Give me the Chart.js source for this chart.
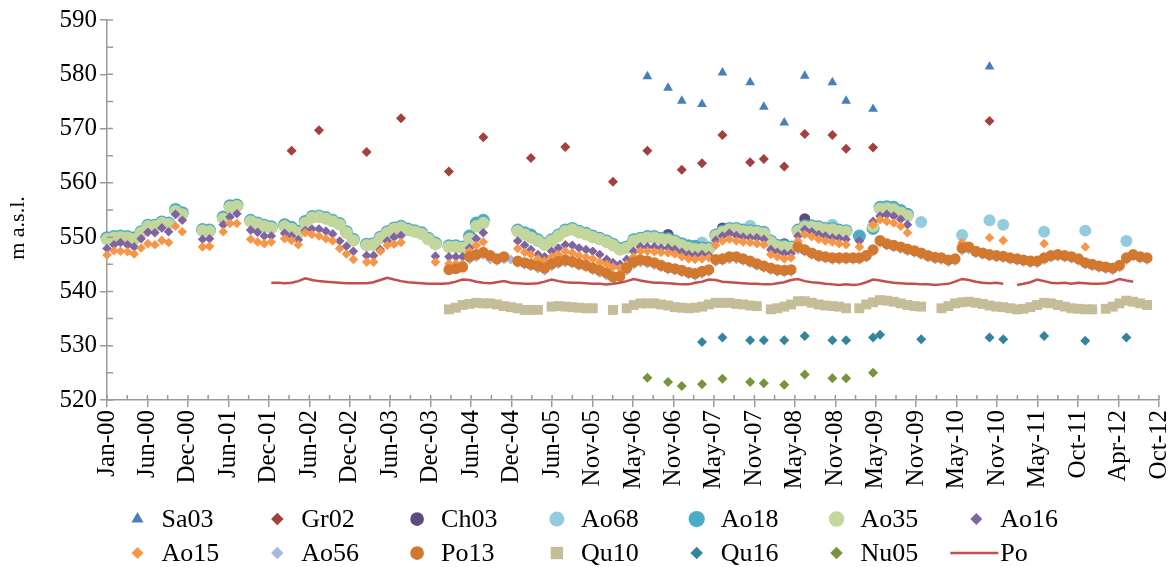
<!DOCTYPE html>
<html>
<head>
<meta charset="utf-8">
<title>Water levels 2000–2012</title>
<script src="https://cdn.jsdelivr.net/npm/chart.js@4.4.1/dist/chart.umd.min.js"></script>
<style>
  html, body { margin: 0; padding: 0; background: #ffffff; }
  #wrap { width: 1176px; height: 567px; }
</style>
</head>
<body>
<div id="wrap"><canvas id="chart" width="1176" height="567"></canvas></div>
<script>
// ---------------------------------------------------------------------------
// Data (m a.s.l.). Monthly series start at the given month; null = no reading.
// ---------------------------------------------------------------------------
const seriesNames = ['Sa03', 'Gr02', 'Ch03', 'Ao68', 'Ao18', 'Ao35', 'Ao16',
                     'Ao15', 'Ao56', 'Po13', 'Qu10', 'Qu16', 'Nu05', 'Po'];

const xTickLabels = ['Jan-00', 'Jun-00', 'Dec-00', 'Jun-01', 'Dec-01', 'Jun-02', 'Dec-02',
  'Jun-03', 'Dec-03', 'Jun-04', 'Dec-04', 'Jun-05', 'Nov-05', 'May-06', 'Nov-06', 'May-07',
  'Nov-07', 'May-08', 'Nov-08', 'May-09', 'Nov-09', 'May-10', 'Nov-10', 'May-11', 'Oct-11',
  'Apr-12', 'Oct-12'];
const yTickValues = [520, 530, 540, 550, 560, 570, 580, 590];

// Spot campaigns
const sa03Dates = ['2006-08', '2006-11', '2007-01', '2007-04', '2007-07', '2007-11', '2008-01',
  '2008-04', '2008-07', '2008-11', '2009-01', '2009-05', '2010-10'];
const sa03 = [579.6, 577.5, 575.1, 574.5, 580.3, 578.5, 574.0, 571.1, 579.7, 578.5, 575.1, 573.6, 581.4];

const gr02Dates = ['2002-04', '2002-08', '2003-03', '2003-08', '2004-03', '2004-08', '2005-03',
  '2005-08', '2006-03', '2006-08', '2007-01', '2007-04', '2007-07', '2007-11', '2008-01',
  '2008-04', '2008-07', '2008-11', '2009-01', '2009-05', '2010-10'];
const gr02 = [565.9, 569.7, 565.7, 571.9, 562.1, 568.4, 564.6, 566.6, 560.2, 565.9, 562.4,
  563.6, 568.8, 563.8, 564.4, 563.0, 569.0, 568.8, 566.3, 566.5, 571.4];

const ch03Dates = ['2006-08', '2006-11', '2007-07', '2008-04', '2008-07'];
const ch03 = [550.2, 550.5, 551.7, 548.8, 553.4];

const ao68Dates = ['2007-04', '2007-11', '2008-11', '2009-12', '2010-06', '2010-10', '2010-12',
  '2011-06', '2011-12', '2012-06'];
const ao68 = [549.0, 552.1, 552.3, 552.8, 550.4, 553.1, 552.3, 551.0, 551.2, 549.3];

const qu16Dates = ['2007-04', '2007-07', '2007-11', '2008-01', '2008-04', '2008-07', '2008-11',
  '2009-01', '2009-05', '2009-06', '2009-12', '2010-10', '2010-12', '2011-06', '2011-12', '2012-06'];
const qu16 = [530.7, 531.5, 531.0, 531.0, 531.0, 531.8, 531.0, 531.0, 531.5, 532.0, 531.2,
  531.5, 531.2, 531.8, 530.9, 531.5];

const nu05Dates = ['2006-08', '2006-11', '2007-01', '2007-04', '2007-07', '2007-11', '2008-01',
  '2008-04', '2008-07', '2008-11', '2009-01', '2009-05'];
const nu05 = [524.1, 523.3, 522.6, 522.9, 523.9, 523.3, 523.1, 522.8, 524.7, 524.0, 524.0, 525.0];

// Monthly records from January 2000
const ao18Start = '2000-01';
const ao18 = [
  549.9, 550.1, 550.2, 550.1, 549.9, 551.0, 552.2, 552.2, 552.8, 552.6, 555.1, 554.5,
  null, null, 551.4, 551.3, null, 553.7, 555.8, 555.9, null, 553.1, 552.6, 552.2,
  551.9, null, 552.3, 551.8, 551.1, 552.9, 553.8, 553.9, 553.6, 553.1, 552.5, 551.0,
  549.6, null, 548.7, 548.8, 550.0, 551.0, 551.7, 552.0, 551.5, 551.2, 550.8, 549.8,
  548.9, null, 548.4, 548.4, 548.2, 550.2, 552.6, 553.1, null, null, null, null,
  551.3, 550.8, 550.4, 549.5, 548.8, 549.5, 550.4, 551.3, 551.6, 551.1, 550.7, 550.2,
  549.8, 549.3, 548.7, 547.9, 548.2, 549.5, 549.8, 550.1, 550.1, 549.8, 549.7, 549.3,
  548.8, 548.4, 548.3, 548.0, 548.0, 550.4, 551.1, 551.6, 551.6, 551.3, 551.2, 551.1,
  550.9, 549.3, 548.5, 548.4, 548.2, 551.3, 552.1, 552.1, 551.9, 551.6, 551.6, 551.3,
  551.2, null, 550.2, null, 551.6, 555.5, 555.6, 555.5, 554.9, 554.2];

const ao35Start = '2000-01';
const ao35 = [
  549.6, 549.9, 550.0, 549.9, 549.6, 550.8, 552.0, 552.0, 552.6, 552.4, 554.8, 554.2,
  null, null, 551.2, 551.1, null, 553.4, 555.5, 555.7, null, 552.9, 552.4, 552.0,
  551.7, null, 552.0, 551.5, 550.8, 552.6, 553.6, 553.7, 553.4, 552.9, 552.3, 550.8,
  549.4, null, 548.5, 548.6, 549.8, 550.8, 551.5, 551.8, 551.3, 551.0, 550.6, 549.6,
  548.7, null, 548.2, 548.2, 548.0, 549.7, 552.0, 552.6, null, null, null, null,
  551.1, 550.5, 549.9, 549.3, 548.6, 549.3, 550.2, 551.1, 551.4, 550.9, 550.5, 550.0,
  549.6, 549.1, 548.5, 547.7, 548.0, 549.3, 549.6, 549.9, 549.9, 549.6, 549.5, 549.1,
  548.5, 548.0, 547.8, 547.8, 547.8, 550.2, 550.9, 551.4, 551.4, 551.1, 551.0, 550.9,
  550.7, 549.1, 548.3, 548.2, 548.0, 551.1, 551.9, 551.9, 551.7, 551.4, 551.4, 551.1,
  551.0, null, null, null, 552.0, 555.2, 555.3, 555.1, 554.5, 553.9];

const ao16Start = '2000-01';
const ao16 = [
  547.9, 548.6, 549.0, 548.6, 548.2, 549.7, 550.9, 550.8, 551.7, 551.0, 554.2, 553.1,
  null, null, 549.6, 549.7, null, 552.3, 553.7, 554.3, null, 551.3, 550.9, 550.2,
  550.2, null, 550.7, 550.2, 549.5, 551.2, 551.5, 551.5, 551.1, 550.6, 549.3, 548.3,
  547.4, null, 546.6, 546.6, 547.7, 549.3, 550.0, 550.3, null, null, null, null,
  546.5, null, 546.4, 546.4, 546.4, 548.0, 549.7, 550.8, null, null, null, null,
  549.3, 548.5, 547.7, 546.8, 546.4, 547.4, 548.0, 548.6, 548.5, 548.0, 547.7, 547.4,
  546.8, 545.9, 545.3, 545.0, 545.9, 547.4, 548.2, 548.2, 548.2, 548.0, 548.0, 547.7,
  547.2, 546.8, 546.6, 546.8, 546.6, 549.4, 550.2, 550.7, 550.3, 550.0, 549.9, 549.9,
  549.6, 547.7, 547.2, 547.0, 547.0, 550.2, 551.4, 551.0, 550.5, 550.2, 549.9, 549.8,
  549.6, null, 549.3, null, 552.9, 553.9, 554.2, 553.9, 553.3, 552.3];

const ao15Start = '2000-01';
const ao15 = [
  546.7, 547.5, 547.4, 547.3, 546.9, 548.0, 548.8, 548.6, 549.4, 549.0, 552.0, 551.0,
  null, null, 548.2, 548.3, null, 551.0, 552.5, 552.5, null, 549.6, 549.1, 548.8,
  549.1, null, 549.7, 549.4, 548.6, 550.8, 550.5, 550.2, 549.7, 549.3, 547.9, 546.9,
  545.9, null, 545.4, 545.4, 547.4, 548.5, 548.7, 549.0, null, null, null, null,
  545.4, null, 545.1, 545.1, 545.1, 547.4, 548.5, 549.1, null, null, null, null,
  547.9, 547.2, 546.8, 546.0, 545.6, 546.4, 546.8, 547.4, 547.1, 546.6, 546.3, 546.0,
  545.4, 545.0, 544.5, 544.3, 545.0, 546.4, 547.4, 547.4, 547.3, 547.2, 547.1, 546.9,
  546.4, 546.0, 545.9, 546.0, 546.2, 548.5, 549.3, 549.6, 549.3, 549.1, 549.0, 548.8,
  548.6, 546.8, 546.4, 546.0, 546.2, 549.3, 550.5, 550.1, 549.6, 549.3, 549.1, 548.8,
  548.6, null, 548.2, null, 552.3, 553.2, 552.9, 552.6, 552.0, 550.8, null, null,
  null, null, null, null, null, 549.0, null, null, null, 549.9, null, 549.4,
  null, null, null, null, null, 548.8, null, null, null, null, null, 548.2];

// Monthly records from March 2004
const ao56Start = '2004-03';
const ao56 = [
  null, null, null, 545.9, 546.3, 546.7, 545.9, 545.6, 545.9, 545.9,
  545.2, 544.9, 544.6, 544.2, 543.8, 544.6, 545.0, 545.3, 545.1, 544.7, 544.4, 543.9,
  543.4, 542.9, 542.3, 542.4, 543.8, 544.9, 545.3, 545.1, 544.8, 544.4, 544.0, 543.8,
  543.5, 543.1, 542.9, 543.2, 543.6, 545.4, 545.6, 545.9, 545.9, 545.6, 545.2, 544.7,
  544.3, 543.9, 543.6, 543.5, 543.6, 547.7, 547.3, 546.7, 546.2, 546.0, 545.8, 545.8,
  545.8, 545.8, 545.8, 546.2, 547.3, 548.9, 548.4, 548.1, 547.8, 547.4, 547.1, 546.7,
  546.2, 545.9, 545.8, 545.4, 545.6, 547.5, 547.7, 547.0, 546.7, 546.4, 546.2, 546.1,
  545.8, 545.6, 545.4, 545.2, 545.2, 545.8, 546.2, 546.4, 546.2, 546.0, 545.6, 544.9,
  544.6, 544.3, 544.1, 543.9, 544.4, 545.8, 546.4, 546.0, 545.8];

const po13Start = '2004-03';
const po13 = [
  544.0, 544.2, 544.5, 546.4, 546.8, 547.2, 546.6, 546.0, 546.4, null,
  545.6, 545.3, 545.0, 544.7, 544.3, 545.1, 545.5, 545.8, 545.5, 545.1, 544.8, 544.3,
  543.9, 543.4, 542.7, 542.8, 544.3, 545.4, 545.8, 545.6, 545.3, 544.8, 544.4, 544.2,
  543.9, 543.5, 543.3, 543.7, 544.0, 545.9, 546.0, 546.4, 546.4, 546.0, 545.6, 545.1,
  544.7, 544.3, 544.0, 543.9, 544.0, 548.2, 547.7, 547.1, 546.6, 546.4, 546.2, 546.2,
  546.2, 546.2, 546.2, 546.6, 547.7, 549.4, 548.8, 548.5, 548.2, 547.8, 547.5, 547.1,
  546.6, 546.3, 546.2, 545.8, 546.0, 548.0, 548.2, 547.4, 547.1, 546.8, 546.6, 546.5,
  546.2, 546.0, 545.8, 545.6, 545.6, 546.2, 546.6, 546.8, 546.6, 546.4, 546.0, 545.3,
  545.0, 544.7, 544.5, 544.3, 544.8, 546.2, 546.8, 546.4, 546.2];

const qu10Start = '2004-03';
const qu10 = [
  536.7, 537.0, 537.5, 537.7, 537.9, 537.8, 537.8, 537.6, 537.3, 537.1,
  536.9, 536.6, 536.6, 536.6, null, 537.2, 537.3, 537.2, 537.1, 537.0, 536.9, 536.9,
  null, null, 536.6, null, 536.9, 537.5, 537.8, 537.8, 537.8, 537.6, 537.4, 537.1,
  537.0, 536.9, 537.0, 537.2, 537.6, 537.9, 537.9, 537.9, 537.7, 537.6, 537.4, 537.3,
  null, 536.7, 536.9, 537.2, 537.6, 538.2, 538.2, 537.9, 537.6, 537.4, 537.3, 537.2,
  536.9, null, 536.9, 537.6, 538.0, 538.4, 538.3, 538.1, 537.8, 537.5, 537.3, 537.2,
  null, null, 536.9, 537.3, 537.8, 538.0, 538.1, 537.9, 537.7, 537.4, 537.2, 537.1,
  536.9, 536.7, 536.8, 537.1, 537.5, 537.9, 537.8, 537.5, 537.2, 536.9, 536.8, 536.7,
  536.7, null, 536.8, 537.2, 537.8, 538.3, 538.1, 537.8, 537.5];

// Lake level, monthly from January 2002
const poStart = '2002-01';
const po = [
  541.6, 541.6, 541.5, 541.6, 541.9, 542.4, 542.1, 541.9, 541.8, 541.7, 541.6, 541.5,
  541.5, 541.5, 541.5, 541.7, 542.1, 542.5, 542.2, 541.9, 541.7, 541.6, 541.5, 541.4,
  541.4, 541.4, 541.5, 541.8, 542.2, 542.1, 541.8, 541.6, 541.5, 541.7, 541.9, 541.6,
  541.5, 541.4, 541.4, 541.5, 541.8, 542.2, 541.9, 541.7, 541.6, 541.6, 541.5, 541.4,
  541.4, 541.3, 541.4, 541.6, 541.9, 542.3, 542.0, 541.8, 541.6, 541.6, 541.5, 541.4,
  541.3, 541.3, 541.6, 541.8, 542.2, 542.1, 541.8, 541.7, 541.6, 541.5, 541.4, 541.4,
  541.3, 541.3, 541.5, 541.7, 542.1, 542.3, 541.9, 541.7, 541.6, 541.4, 541.3, 541.2,
  541.3, 541.2, 541.3, 541.7, 542.2, 542.0, 541.8, 541.6, 541.5, 541.4, 541.4, 541.3,
  541.3, 541.2, 541.3, 541.4, 541.8, 542.3, 542.1, 541.8, 541.6, 541.5, 541.6, 541.4,
  null, 541.2, 541.4, 541.7, 542.2, 541.9, 541.6, 541.5, 541.6, 541.4, 541.6, 541.5,
  541.4, 541.4, 541.5, 541.8, 542.3, 542.0, 541.8];

// ---------------------------------------------------------------------------
// Helpers: x values are days since 1 January 2000
// ---------------------------------------------------------------------------
const EPOCH = Date.UTC(2000, 0, 1);
const DAY_MS = 86400000;
const TICK_DAYS = 180;

function dayOf(year, monthIndex) {
  return (Date.UTC(year, monthIndex, 1) - EPOCH) / DAY_MS;
}
function monthly(start, values) {
  const [y, m] = start.split('-').map(Number);
  return values.map((v, i) => ({ x: dayOf(y, m - 1 + i), y: v }));
}
function dated(dates, values) {
  return dates.map((d, i) => {
    const [y, m] = d.split('-').map(Number);
    return { x: dayOf(y, m - 1), y: values[i] };
  });
}

const seriesPoints = {
  Sa03: dated(sa03Dates, sa03),
  Gr02: dated(gr02Dates, gr02),
  Ch03: dated(ch03Dates, ch03),
  Ao68: dated(ao68Dates, ao68),
  Ao18: monthly(ao18Start, ao18),
  Ao35: monthly(ao35Start, ao35),
  Ao16: monthly(ao16Start, ao16),
  Ao15: monthly(ao15Start, ao15),
  Ao56: monthly(ao56Start, ao56),
  Po13: monthly(po13Start, po13),
  Qu10: monthly(qu10Start, qu10),
  Qu16: dated(qu16Dates, qu16),
  Nu05: dated(nu05Dates, nu05),
  Po: monthly(poStart, po)
};

// Marker styles
const seriesStyle = {
  Sa03: { color: '#4A7EBB', shape: 'triangle', r: 5.6 },
  Gr02: { color: '#A2403D', shape: 'rectRot', r: 5 },
  Ch03: { color: '#5F4A7E', shape: 'circle', r: 5.5 },
  Ao68: { color: '#93CDDD', shape: 'circle', r: 6 },
  Ao18: { color: '#4BACC6', shape: 'circle', r: 6.5 },
  Ao35: { color: '#C3D69B', shape: 'circle', r: 6.2 },
  Ao16: { color: '#8064A2', shape: 'rectRot', r: 4.8 },
  Ao15: { color: '#F79646', shape: 'rectRot', r: 4.8 },
  Ao56: { color: '#A6B9DE', shape: 'rectRot', r: 5 },
  Po13: { color: '#D2782F', shape: 'circle', r: 5.5 },
  Qu10: { color: '#C4BD97', shape: 'rect', r: 7 },
  Qu16: { color: '#31859C', shape: 'rectRot', r: 5 },
  Nu05: { color: '#77933C', shape: 'rectRot', r: 5 },
  Po:   { color: '#C0504D', line: true, width: 2.5 }
};

const AXIS_COLOR = '#9A9A9A';
const FONT = '"Liberation Serif", "Times New Roman", serif';

const datasets = seriesNames.map((name, i) => {
  const s = seriesStyle[name];
  const base = {
    label: name,
    data: seriesPoints[name],
    order: seriesNames.length - i,   // later series are painted on top
    clip: false
  };
  if (s.line) {
    return Object.assign(base, {
      borderColor: s.color, backgroundColor: s.color, borderWidth: s.width,
      pointRadius: 0, spanGaps: false, tension: 0, showLine: true
    });
  }
  return Object.assign(base, {
    showLine: false, pointStyle: s.shape, pointRadius: s.r, pointHoverRadius: s.r,
    pointBackgroundColor: s.color, pointBorderColor: s.color, pointBorderWidth: 0,
    borderColor: s.color, backgroundColor: s.color
  });
});

// Inner/minor tick marks, the rotated axis title and the two-row legend
const decorations = {
  id: 'decorations',
  afterDraw(chart) {
    const { ctx, chartArea: a, scales: { x, y } } = chart;
    ctx.save();
    ctx.strokeStyle = AXIS_COLOR;
    ctx.lineWidth = 1.5;
    ctx.beginPath();
    for (let d = 0; d <= x.max; d += TICK_DAYS / 2) {
      const px = x.getPixelForValue(d);
      ctx.moveTo(px, a.bottom);
      ctx.lineTo(px, a.bottom - 5);
    }
    for (let v = y.min; v <= y.max; v += 5) {
      const py = y.getPixelForValue(v);
      ctx.moveTo(a.left, py);
      ctx.lineTo(a.left + 6, py);
    }
    ctx.stroke();

    // axis title
    ctx.fillStyle = '#000000';
    ctx.font = '22px ' + FONT;
    ctx.textAlign = 'center';
    ctx.textBaseline = 'middle';
    ctx.translate(18, 228);
    ctx.rotate(-Math.PI / 2);
    ctx.fillText('m a.s.l.', 0, 0);
    ctx.setTransform(1, 0, 0, 1, 0, 0);

    // legend
    const colX0 = 137.5, colStep = 139.8, rowY = [519, 553];
    ctx.font = '26px ' + FONT;
    ctx.textAlign = 'left';
    ctx.textBaseline = 'middle';
    chart.data.datasets.forEach((ds, i) => {
      const s = seriesStyle[ds.label];
      const cx = colX0 + colStep * (i % 7);
      const cy = rowY[Math.floor(i / 7)];
      if (s.line) {
        ctx.strokeStyle = s.color;
        ctx.lineWidth = s.width;
        ctx.beginPath();
        ctx.moveTo(cx - 26, cy);
        ctx.lineTo(cx + 22, cy);
        ctx.stroke();
      } else {
        ctx.fillStyle = s.color;
        Chart.helpers.drawPoint(ctx, { pointStyle: s.shape, rotation: 0, radius: s.r * 1.25, borderWidth: 0 }, cx, cy);
      }
      ctx.fillStyle = '#000000';
      ctx.fillText(ds.label, cx + 24, cy + 1);
    });
    ctx.restore();
  }
};

new Chart(document.getElementById('chart'), {
  type: 'line',
  data: { datasets },
  plugins: [decorations],
  options: {
    responsive: false,
    animation: false,
    devicePixelRatio: 1,
    events: [],
    layout: { padding: { left: 0, top: 20, right: 17, bottom: 0 } },
    plugins: { legend: { display: false }, tooltip: { enabled: false } },
    scales: {
      x: {
        type: 'linear',
        min: 0,
        max: (xTickLabels.length - 1) * TICK_DAYS,
        border: { display: true, color: AXIS_COLOR, width: 1.5 },
        grid: { drawOnChartArea: false, drawTicks: true, tickLength: 7, color: AXIS_COLOR, lineWidth: 1.5 },
        ticks: {
          stepSize: TICK_DAYS,
          autoSkip: false,
          minRotation: 90,
          maxRotation: 90,
          padding: 3,
          color: '#000000',
          font: { family: FONT, size: 25 },
          callback: (v) => xTickLabels[Math.round(v / TICK_DAYS)] || ''
        },
        afterFit(scale) { scale.height = 167; scale.paddingLeft = 0; scale.paddingRight = 0; }
      },
      y: {
        type: 'linear',
        min: yTickValues[0],
        max: yTickValues[yTickValues.length - 1],
        border: { display: true, color: AXIS_COLOR, width: 1.5 },
        grid: { drawOnChartArea: false, drawTicks: true, tickLength: 7, color: AXIS_COLOR, lineWidth: 1.5 },
        ticks: {
          stepSize: 10,
          padding: 3,
          color: '#000000',
          font: { family: FONT, size: 25 },
          callback: (v) => (yTickValues.includes(v) ? String(v) : '')
        },
        afterFit(scale) { scale.width = 107; scale.paddingTop = 0; scale.paddingBottom = 0; }
      }
    }
  }
});
</script>
</body>
</html>
